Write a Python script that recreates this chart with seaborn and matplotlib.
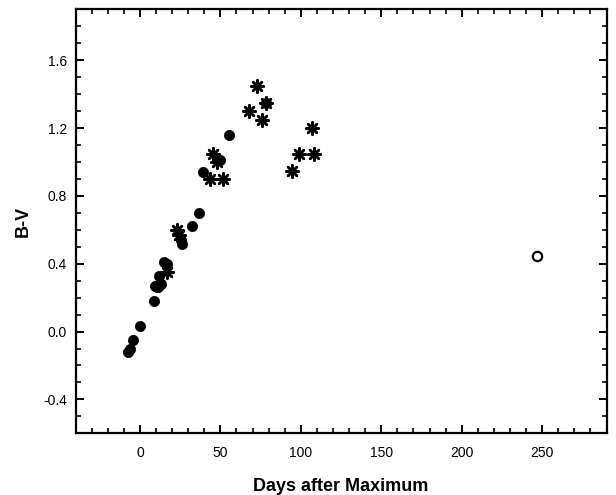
import numpy as np
import pandas as pd
import matplotlib
matplotlib.use("Agg")
import matplotlib.pyplot as plt
from matplotlib.ticker import MultipleLocator
import seaborn as sns

# filled circles
dot_days = [-7.5, -6.3, -4.0, -0.2, 8.7, 9.5, 10.5, 11.2, 12.2, 13.2, 11.8, 14.9, 17.0,
            25.3, 25.9, 32.6, 36.6, 39.4, 50.0, 55.4, 78.3]
dot_bv = [-0.12, -0.105, -0.049, 0.03, 0.183, 0.27, 0.265, 0.26, 0.28, 0.28, 0.33, 0.41, 0.40,
          0.538, 0.519, 0.622, 0.70, 0.939, 1.012, 1.16, 1.35]

# asterisks
star_days = [17.0, 22.8, 24.2, 43.7, 45.6, 47.7, 51.7, 67.7, 72.8, 75.6, 78.5, 94.8, 98.6, 106.9, 108.5]
star_bv = [0.35, 0.60, 0.568, 0.90, 1.047, 0.998, 0.90, 1.30, 1.45, 1.247, 1.35, 0.949, 1.049, 1.20, 1.049]

# open circle
open_days = [247]
open_bv = [0.445]

sns.set_style("ticks")
plt.rcParams["font.family"] = ["Liberation Sans", "DejaVu Sans"]

fig = plt.figure(figsize=(6.16, 4.95), dpi=100)
ax = fig.add_axes([0.1226, 0.1246, 0.862, 0.8566])

sns.scatterplot(x=dot_days, y=dot_bv, ax=ax, marker="o", s=55, color="black",
                edgecolor="black", linewidth=0.5, zorder=3)
sns.scatterplot(x=star_days, y=star_bv, ax=ax, marker=(8, 2, 0), s=80, color="black",
                linewidth=1.8, zorder=4)
sns.scatterplot(x=open_days, y=open_bv, ax=ax, marker="o", s=45, facecolor="white",
                edgecolor="black", linewidth=1.6, zorder=3)

ax.set_xlim(-40, 290)
ax.set_ylim(-0.6, 1.9)
ax.xaxis.set_major_locator(MultipleLocator(50))
ax.xaxis.set_minor_locator(MultipleLocator(10))
ax.yaxis.set_major_locator(MultipleLocator(0.4))
ax.yaxis.set_minor_locator(MultipleLocator(0.1))
ax.yaxis.set_major_formatter(matplotlib.ticker.FormatStrFormatter("%.1f"))

for side in ax.spines.values():
    side.set_linewidth(1.6)
    side.set_color("black")

ax.tick_params(which="both", direction="in", top=True, right=True, color="black",
               labelsize=10, labelcolor="black")
ax.tick_params(which="major", length=6, width=1.4)
ax.tick_params(which="minor", length=3.5, width=1.2)
ax.tick_params(axis="x", which="major", pad=9)
ax.tick_params(axis="y", which="major", pad=6)

ax.set_xlabel("Days after Maximum", fontsize=13, fontweight="bold", labelpad=13,
              color="black", family=["Liberation Sans Narrow", "Liberation Sans"])
ax.set_ylabel("B-V", fontsize=13, fontweight="bold", labelpad=8,
              color="black", family=["Liberation Sans Narrow", "Liberation Sans"])

fig.savefig("out.png", dpi=100)
